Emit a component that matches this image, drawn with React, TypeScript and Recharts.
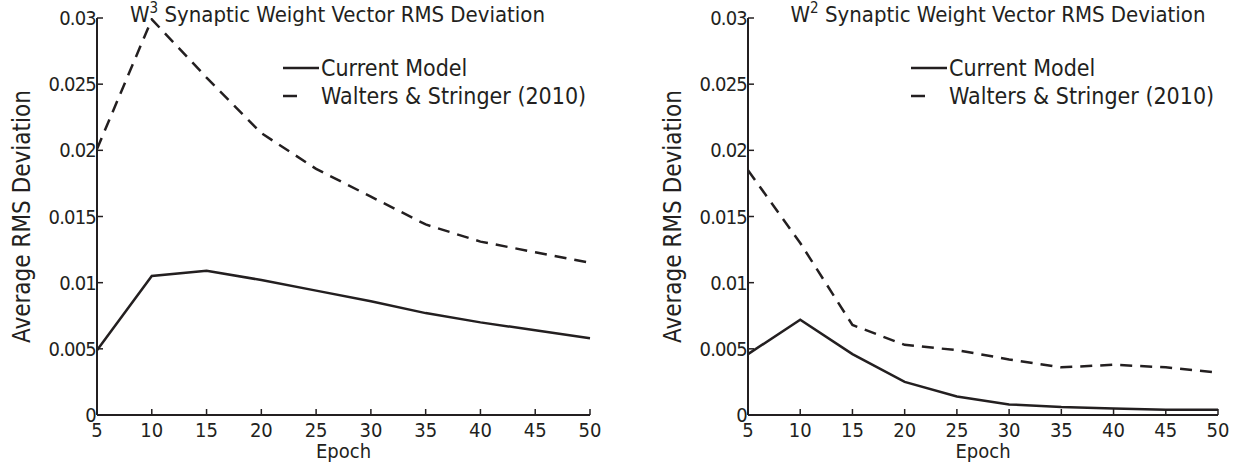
import React from "react"
import { LineChart, Line, XAxis, YAxis, Legend, Label } from "recharts"

const epochs = [5, 10, 15, 20, 25, 30, 35, 40, 45, 50]
const w3Current = [0.0049, 0.0105, 0.0109, 0.0102, 0.0094, 0.0086, 0.0077, 0.007, 0.0064, 0.0058]
const w3Walters = [0.0201, 0.0299, 0.0255, 0.0213, 0.0186, 0.0165, 0.0144, 0.0131, 0.0123, 0.0115]
const w2Current = [0.0046, 0.0072, 0.0046, 0.0025, 0.0014, 0.0008, 0.0006, 0.0005, 0.0004, 0.0004]
const w2Walters = [0.0185, 0.013, 0.0068, 0.0053, 0.0049, 0.0042, 0.0036, 0.0038, 0.0036, 0.0032]

const xTicks = [5, 10, 15, 20, 25, 30, 35, 40, 45, 50]
const yTicks = [0, 0.005, 0.01, 0.015, 0.02, 0.025, 0.03]
const yTickLabels = ["0", "0.005", "0.01", "0.015", "0.02", "0.025", "0.03"]
const seriesNames = ["Current Model", "Walters & Stringer (2010)"]

const ink = "#231f20"
const font = "'DejaVu Sans Condensed', 'DejaVu Sans', sans-serif"

const buildRows = (current: number[], walters: number[]) =>
  epochs.map((epoch, i) => ({ epoch, current: current[i], walters: walters[i] }))

const BottomTick = (props: any) => {
  const { x, y, payload } = props
  return (
    <g>
      <line x1={x} x2={x} y1={y} y2={y - 6} stroke={ink} strokeWidth={1.5} />
      <text x={x} y={y + 22} textAnchor="middle" fontSize={20} fontFamily={font} fill={ink}>
        {payload.value}
      </text>
    </g>
  )
}

const TopTick = (props: any) => {
  const { x, y } = props
  return <line x1={x} x2={x} y1={y} y2={y + 6} stroke={ink} strokeWidth={1.5} />
}

const LeftTick = (props: any) => {
  const { x, y, payload } = props
  const label = yTickLabels[yTicks.indexOf(payload.value)]
  return (
    <g>
      <line x1={x} x2={x + 6} y1={y} y2={y} stroke={ink} strokeWidth={1.5} />
      <text
        x={x - 1}
        y={y + 7}
        textAnchor="end"
        fontSize={20}
        letterSpacing={-0.8}
        fontFamily={font}
        fill={ink}
      >
        {label}
      </text>
    </g>
  )
}

const RightTick = (props: any) => {
  const { x, y } = props
  return <line x1={x} x2={x - 6} y1={y} y2={y} stroke={ink} strokeWidth={1.5} />
}

const YTitle = (props: any) => {
  const { x, y, height } = props.viewBox
  const cx = x + 5
  const cy = y + height / 2
  return (
    <text
      x={cx}
      y={cy}
      transform={`rotate(-90, ${cx}, ${cy})`}
      textAnchor="middle"
      dominantBaseline="central"
      fontSize={24}
      fontFamily={font}
      fill={ink}
    >
      Average RMS Deviation
    </text>
  )
}

const LegendContent = (props: any) => {
  const { payload } = props
  return (
    <div style={{ fontFamily: font, fontSize: 23, color: ink }}>
      {(payload || []).map((entry: any, i: number) => (
        <div key={i} style={{ display: "flex", alignItems: "center", height: 28 }}>
          <svg width={36} height={10} style={{ marginRight: 2 }}>
            <line
              x1={0}
              x2={entry.payload.strokeDasharray ? 14 : 36}
              y1={5}
              y2={5}
              stroke={ink}
              strokeWidth={2.5}
            />
          </svg>
          <span style={{ whiteSpace: "nowrap" }}>{entry.value}</span>
        </div>
      ))}
    </div>
  )
}

interface PanelProps {
  left: number
  width: number
  marginLeft: number
  marginRight: number
  layer: string
  titleShift: number
  current: number[]
  walters: number[]
}

function Panel({ left, width, marginLeft, marginRight, layer, titleShift, current, walters }: PanelProps) {
  const data = buildRows(current, walters)
  const plotLeft = marginLeft + 80
  const plotWidth = width - plotLeft - marginRight
  return (
    <div style={{ position: "absolute", left, top: 0, width, height: 463 }}>
      <div
        style={{
          position: "absolute",
          left: plotLeft + titleShift,
          width: plotWidth,
          top: 2,
          textAlign: "center",
          fontFamily: font,
          fontSize: 22,
          lineHeight: "26px",
          color: ink,
          whiteSpace: "nowrap",
        }}
      >
        W<sup style={{ fontSize: 15, verticalAlign: "9px", lineHeight: 0 }}>{layer}</sup> Synaptic Weight Vector RMS Deviation
      </div>
      <LineChart
        width={width}
        height={463}
        data={data}
        margin={{ top: 18, right: marginRight, bottom: 0, left: marginLeft }}
      >
        <XAxis
          dataKey="epoch"
          type="number"
          domain={[5, 50]}
          ticks={xTicks}
          interval={0}
          height={48}
          tickSize={0}
          tickMargin={0}
          tickLine={false}
          tick={<BottomTick />}
          axisLine={{ stroke: ink, strokeWidth: 2 }}
        >
          <Label
            value="Epoch"
            position="insideBottom"
            offset={5}
            fontSize={20}
            fontFamily={font}
            fill={ink}
          />
        </XAxis>
        <XAxis
          xAxisId="top"
          orientation="top"
          dataKey="epoch"
          type="number"
          domain={[5, 50]}
          allowDataOverflow
          ticks={xTicks}
          interval={0}
          height={0}
          tickSize={0}
          tickMargin={0}
          tickLine={false}
          tick={<TopTick />}
          axisLine={{ stroke: ink, strokeWidth: 2 }}
        />
        <YAxis
          type="number"
          domain={[0, 0.03]}
          allowDataOverflow
          ticks={yTicks}
          interval={0}
          width={80}
          tickSize={0}
          tickMargin={0}
          tickLine={false}
          tick={<LeftTick />}
          axisLine={{ stroke: ink, strokeWidth: 2 }}
        >
          <Label content={<YTitle />} />
        </YAxis>
        <YAxis
          yAxisId="right"
          orientation="right"
          type="number"
          domain={[0, 0.03]}
          allowDataOverflow
          ticks={yTicks}
          interval={0}
          width={0}
          tickSize={0}
          tickMargin={0}
          tickLine={false}
          tick={<RightTick />}
          axisLine={{ stroke: ink, strokeWidth: 2 }}
        />
        <Legend
          layout="vertical"
          align="center"
          verticalAlign="middle"
          content={<LegendContent />}
          wrapperStyle={{ left: plotLeft + plotWidth - 307, top: 54, width: "auto" }}
        />
        <Line
          dataKey="current"
          name={seriesNames[0]}
          type="linear"
          stroke={ink}
          strokeWidth={2.5}
          dot={false}
          isAnimationActive={false}
        />
        <Line
          dataKey="walters"
          name={seriesNames[1]}
          type="linear"
          stroke={ink}
          strokeWidth={2.5}
          strokeDasharray="12 8"
          dot={false}
          isAnimationActive={false}
        />
      </LineChart>
    </div>
  )
}

export default function App() {
  return (
    <div style={{ position: "absolute", left: 0, top: 0, width: 1236, height: 463, background: "#fff" }}>
      <Panel left={0} width={620} marginLeft={17} marginRight={30} layer="3" titleShift={-6} current={w3Current} walters={w3Walters} />
      <Panel left={620} width={616} marginLeft={48} marginRight={18} layer="2" titleShift={15} current={w2Current} walters={w2Walters} />
    </div>
  )
}
